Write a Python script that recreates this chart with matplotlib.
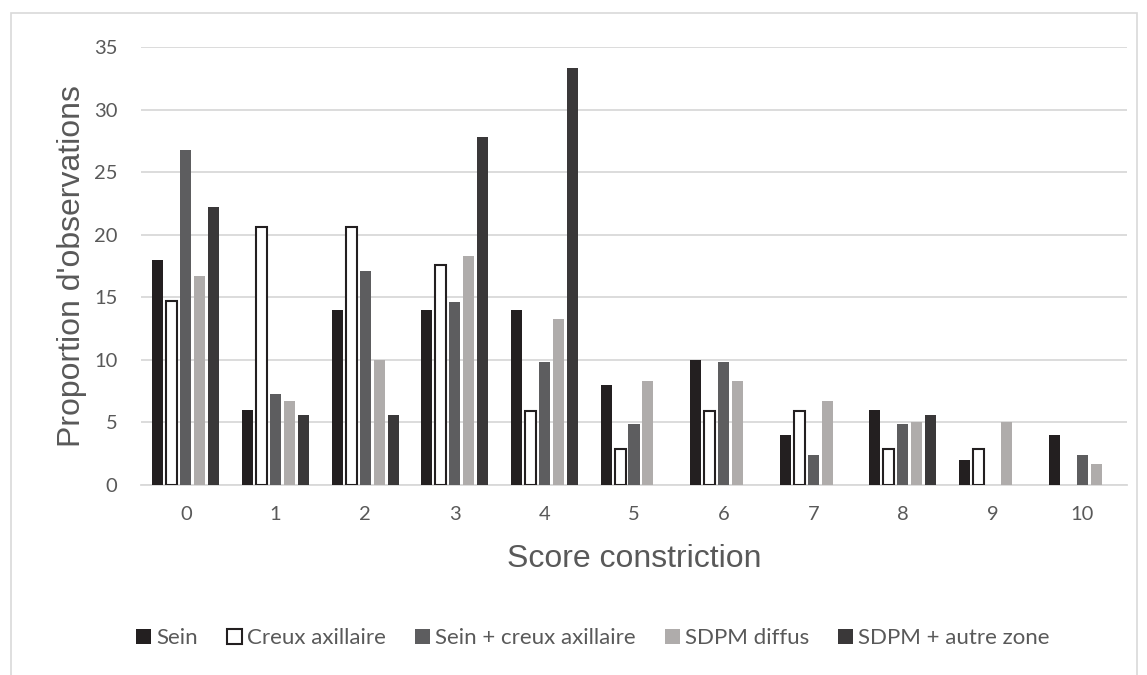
import numpy as np
import matplotlib
matplotlib.use("Agg")
import matplotlib.pyplot as plt
from matplotlib.patches import Rectangle

# ---- données ----
scores = ["0", "1", "2", "3", "4", "5", "6", "7", "8", "9", "10"]
series_names = ["Sein", "Creux axillaire", "Sein + creux axillaire", "SDPM diffus", "SDPM + autre zone"]
sein = [18, 6, 14, 14, 14, 8, 10, 4, 6, 2, 4]
creux = [14.7, 20.6, 20.6, 17.6, 5.9, 2.9, 5.9, 5.9, 2.9, 2.9, 0]
sein_creux = [26.8, 7.3, 17.1, 14.6, 9.8, 4.9, 9.8, 2.4, 4.9, 0, 2.4]
sdpm_diffus = [16.7, 6.7, 10, 18.3, 13.3, 8.3, 8.3, 6.7, 5, 5, 1.7]
sdpm_autre = [22.2, 5.6, 5.6, 27.8, 33.3, 0, 0, 0, 5.6, 0, 0]

series = [sein, creux, sein_creux, sdpm_diffus, sdpm_autre]
faces = ["#231f20", "#ffffff", "#5d5d5f", "#afacab", "#3a3839"]
edges = ["#231f20", "#231f20", "#5d5d5f", "#afacab", "#3a3839"]

fig = plt.figure(figsize=(11.47, 6.75), dpi=100)
ax = fig.add_axes([141 / 1147, 1 - 485 / 675, (1127 - 141) / 1147, (485 - 47) / 675])

x = np.arange(len(scores))
step = 0.156
width = 0.123
for i, vals in enumerate(series):
    lw = [1.5 if (i == 1 and v > 0) else 0 for v in vals]
    ax.bar(x + (i - 2) * step, vals, width=width, color=faces[i],
           edgecolor=edges[i], linewidth=lw, label=series_names[i], zorder=3)

ax.set_xlim(-0.5, len(scores) - 0.5)
ax.set_ylim(0, 35)
ax.set_yticks(range(0, 36, 5))
ax.set_xticks(x)
ax.set_xticklabels(scores)
ax.grid(axis="y", color="#d9d9d9", linewidth=1.3, zorder=0)
ax.set_axisbelow(True)
for s in ["top", "right", "left"]:
    ax.spines[s].set_visible(False)
ax.spines["bottom"].set_color("#d9d9d9")
ax.spines["bottom"].set_linewidth(1.3)
ax.tick_params(length=0, labelsize=14.5, colors="#595959")
ax.tick_params(axis="x", pad=15)
ax.tick_params(axis="y", pad=17)
for lab in ax.get_xticklabels() + ax.get_yticklabels():
    lab.set_family("Lato")

ax.set_xlabel("Score constriction", fontsize=23, color="#595959",
              family="Liberation Sans", labelpad=15)
ax.set_ylabel("Proportion d'observations", fontsize=23, color="#595959",
              family="Liberation Sans", labelpad=5)

handles = [Rectangle((0, 0), 1, 1, facecolor=faces[i], edgecolor=edges[i],
                     linewidth=1.5 if i == 1 else 0) for i in range(5)]
fig.legend(handles, series_names, loc="center", bbox_to_anchor=(0.517, 1 - 638 / 675),
           ncol=5, frameon=False, handlelength=0.68, handleheight=0.68,
           handletextpad=0.23, columnspacing=1.3, prop={"family": "Lato", "size": 16},
           labelcolor="#595959")

# cadre gris clair autour du graphique
fig.patches.append(Rectangle((11 / 1147, -0.05), (1137 - 11) / 1147, 1.05 - 13 / 675,
                             transform=fig.transFigure, fill=False,
                             edgecolor="#d9d9d9", linewidth=1.2))

fig.savefig("out.png", dpi=100)
